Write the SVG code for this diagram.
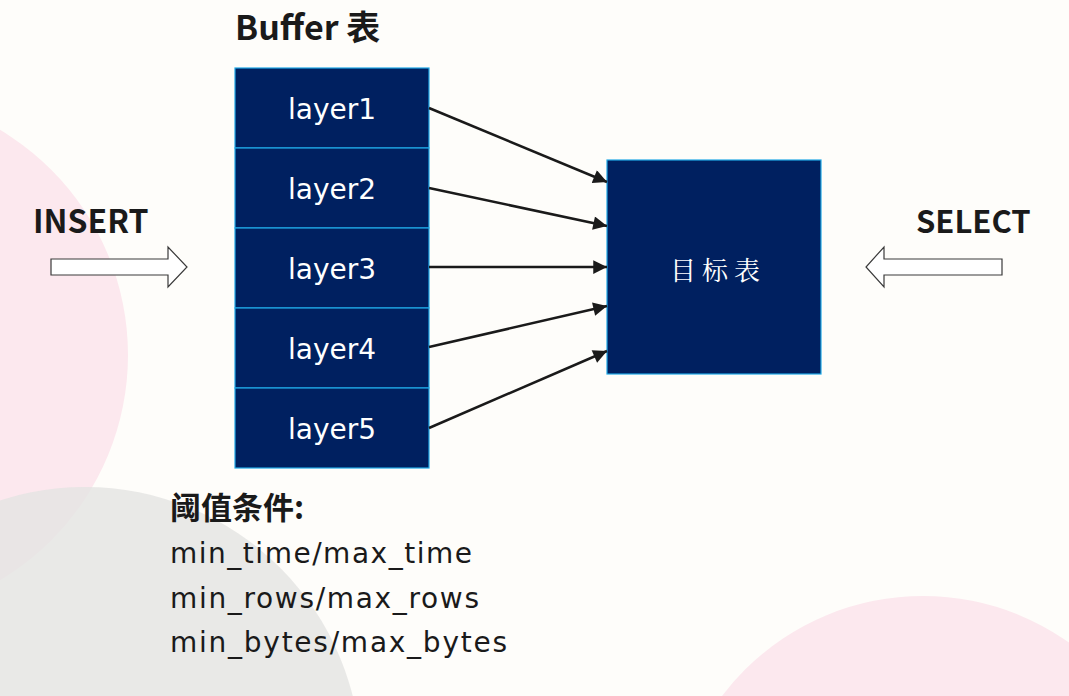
<svg xmlns="http://www.w3.org/2000/svg" width="1069" height="696" viewBox="0 0 1069 696">
<style>
.bg{fill:#FEFDFA}
.pink{fill:#FCE8EE}
.gray{fill:#E4E4E2;fill-opacity:0.8}
.cell{fill:#002060;stroke:#1EA8E6;stroke-width:1.2}
.ltxt{font-family:"DejaVu Sans",sans-serif;font-size:28px;fill:#FFFFFF;text-anchor:middle}
.htxt{font-family:"Noto Sans CJK SC","DejaVu Sans",sans-serif;font-weight:bold;font-size:32px;fill:#1A1A1A}
.ctxt{font-family:"DejaVu Sans",sans-serif;font-size:28px;fill:#1A1A1A}
.conn{stroke:#1A1A1A;stroke-width:2.5;fill:none}
.blk{fill:#FFFFFF;stroke:#3A3A3A;stroke-width:1.2}
</style>
<defs>
<marker id="ah" viewBox="0 0 10 10" refX="10" refY="5" markerWidth="6.5" markerHeight="5.5" markerUnits="strokeWidth" orient="auto">
<path d="M0,0 L10,5 L0,10 z" fill="#1A1A1A"/>
</marker>
</defs>
<rect class="bg" x="0" y="0" width="1069" height="696"/>
<circle class="pink" cx="-134" cy="355" r="262"/>
<circle class="gray" cx="85" cy="763" r="276"/>
<circle class="pink" cx="923" cy="848" r="252"/>

<text class="htxt" x="235" y="40" style="font-size:34px">Buffer 表</text>

<g id="layer1"><rect class="cell" x="235" y="68" width="194" height="80"/><text class="ltxt" x="332" y="119">layer1</text></g>
<g id="layer2"><rect class="cell" x="235" y="148" width="194" height="80"/><text class="ltxt" x="332" y="199">layer2</text></g>
<g id="layer3"><rect class="cell" x="235" y="228" width="194" height="80"/><text class="ltxt" x="332" y="279">layer3</text></g>
<g id="layer4"><rect class="cell" x="235" y="308" width="194" height="80"/><text class="ltxt" x="332" y="359">layer4</text></g>
<g id="layer5"><rect class="cell" x="235" y="388" width="194" height="80"/><text class="ltxt" x="332" y="439">layer5</text></g>

<g id="target"><rect class="cell" x="607" y="160" width="214" height="214"/><text x="718" y="280" style="font-family:'Noto Serif CJK SC','Noto Sans CJK SC',serif;font-size:26px;fill:#FFFFFF;text-anchor:middle;letter-spacing:6px">目标表</text></g>

<g id="connectors">
<line class="conn" x1="429" y1="108" x2="607" y2="182" marker-end="url(#ah)"/>
<line class="conn" x1="429" y1="188" x2="607" y2="226" marker-end="url(#ah)"/>
<line class="conn" x1="429" y1="267" x2="607" y2="267" marker-end="url(#ah)"/>
<line class="conn" x1="429" y1="347" x2="607" y2="306" marker-end="url(#ah)"/>
<line class="conn" x1="429" y1="428" x2="607" y2="351" marker-end="url(#ah)"/>
</g>

<g id="insert">
<text class="htxt" x="33" y="233">INSERT</text>
<path class="blk" d="M51,259 L168,259 L168,247 L187,267 L168,287 L168,275 L51,275 Z"/>
</g>
<g id="select">
<text class="htxt" x="916" y="233" style="font-size:31px">SELECT</text>
<path class="blk" d="M1002,259 L884,259 L884,247 L866,267 L884,287 L884,275 L1002,275 Z"/>
</g>

<g id="conditions">
<text class="htxt" x="170" y="519" style="font-size:31px">阈值条件:</text>
<text class="ctxt" x="170" y="563" textLength="302" lengthAdjust="spacing">min_time/max_time</text>
<text class="ctxt" x="170" y="608" textLength="309" lengthAdjust="spacing">min_rows/max_rows</text>
<text class="ctxt" x="170" y="652" textLength="337" lengthAdjust="spacing">min_bytes/max_bytes</text>
</g>
</svg>
